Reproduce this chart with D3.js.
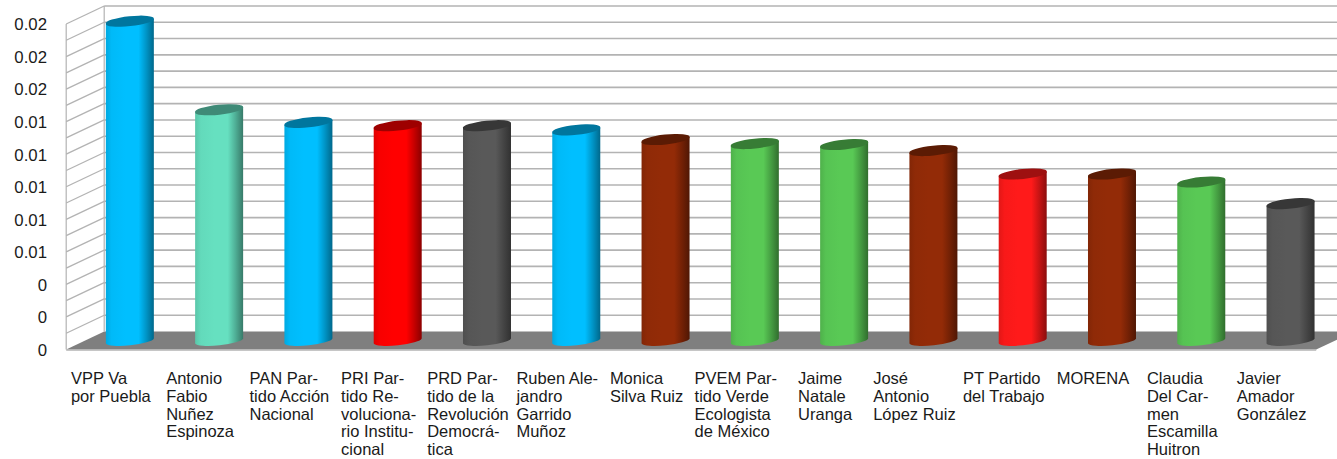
<!DOCTYPE html>
<html><head><meta charset="utf-8">
<script src="https://cdn.jsdelivr.net/npm/d3@7"></script>
<style>html,body{margin:0;padding:0;background:#fff}svg{display:block}text{font-family:"Liberation Sans",Arial,sans-serif;fill:#1a1a1a}</style>
</head><body><svg id="c" width="1337" height="459"></svg>
<script>
const categories=[
["VPP Va","por Puebla"],
["Antonio","Fabio","Nuñez","Espinoza"],
["PAN Par-","tido Acción","Nacional"],
["PRI Par-","tido Re-","voluciona-","rio Institu-","cional"],
["PRD Par-","tido de la","Revolución","Democrá-","tica"],
["Ruben Ale-","jandro","Garrido","Muñoz"],
["Monica","Silva Ruiz"],
["PVEM Par-","tido Verde","Ecologista","de México"],
["Jaime","Natale","Uranga"],
["José","Antonio","López Ruiz"],
["PT Partido","del Trabajo"],
["MORENA"],
["Claudia","Del Car-","men","Escamilla","Huitron"],
["Javier","Amador","González"]];
const values=[0.01962,0.01418,0.0134,0.0132,0.0132,0.01294,0.01235,0.0121,0.01204,0.01167,0.01023,0.01023,0.00974,0.00841];
const colors=["#00bfff","#66e0c0","#00bfff","#ff0000","#595959","#00bfff","#932b07","#59c955","#59c955","#932b07","#ff1a1a","#932b07","#59c955","#595959"];
const tickValues=d3.range(0,21).map(i=>i*0.001);
const labelValues=d3.range(0,11).map(i=>i*0.002);
const svg=d3.select("#c");
const dx=38,dy=18,x0=66.2,x1=1316.2,barW=48;
const y=d3.scaleLinear().domain([0,0.02]).range([349.5,24]);
const x=d3.scaleBand().domain(d3.range(values.length)).range([x0,x1]).paddingInner(0).paddingOuter(0);
const defs=svg.append("defs");
colors.forEach((c,i)=>{
 const g=defs.append("linearGradient").attr("id","g"+i);
 const base=d3.color(c);
 [[0,base.darker(.35)],[.12,base.darker(.08)],[.4,base],[.68,base],[.84,base.darker(.7)],[1,base.darker(1.7)]].forEach(s=>g.append("stop").attr("offset",s[0]).attr("stop-color",s[1]));
});
const grid="#b3b3b3";
// floor
svg.append("path").attr("d",`M${x0},${y(0)}L${x0+dx},${y(0)-dy}L${x1+dx},${y(0)-dy}L${x1},${y(0)}Z`).attr("fill","#7f7f7f");
// back grid lines & side grid lines
svg.append("g").selectAll("line").data(tickValues).join("line")
 .attr("x1",x0+dx).attr("x2",1337).attr("y1",d=>y(d)-dy).attr("y2",d=>y(d)-dy)
 .attr("stroke",grid).attr("stroke-width",d=>d===0?0:1.6);
svg.append("g").selectAll("line").data(tickValues).join("line")
 .attr("x1",x0).attr("x2",x0+dx).attr("y1",d=>y(d)).attr("y2",d=>y(d)-dy)
 .attr("stroke",grid).attr("stroke-width",d=>d===0?0:1.3);
svg.append("line").attr("x1",x0).attr("x2",x0).attr("y1",y(0.02)).attr("y2",y(0)).attr("stroke",grid).attr("stroke-width",1.2);
svg.append("line").attr("x1",x0+dx).attr("x2",x0+dx).attr("y1",y(0.02)-dy).attr("y2",y(0)-dy).attr("stroke",grid).attr("stroke-width",1.2);
svg.append("line").attr("x1",x0).attr("x2",x1).attr("y1",y(0)+.5).attr("y2",y(0)+.5).attr("stroke",grid).attr("stroke-width",1.4);
// bars
const rx=barW/2, tilt=2.5, ry=4.6;
const rot=Math.atan2(tilt,rx)*180/Math.PI;
const bars=svg.append("g");
values.forEach((v,i)=>{
 const cx=x(i)+x.bandwidth()/2+dx/2;
 const cyB=y(0)-dy/2+.5, cyT=y(v)-dy/2;
 const l=cx-rx,r=cx+rx;
 const g=bars.append("g");
 g.append("path").attr("fill",`url(#g${i})`)
  .attr("d",`M${l},${cyT+tilt}L${l},${cyB+tilt}A${rx+.2},${ry} ${-rot} 0 0 ${r},${cyB-tilt}L${r},${cyT-tilt}Z`);
 g.append("path").attr("fill",d3.color(colors[i]).darker(1.35))
  .attr("d",`M${l},${cyT+tilt}A${rx+.2},${ry} ${-rot} 1 1 ${r},${cyT-tilt}A${rx+.2},${ry} ${-rot} 1 1 ${l},${cyT+tilt}Z`);
});
// y labels
const fmt=d=>{const s=(Math.round(d*100)/100);return s===0?"0":s.toFixed(2)};
svg.append("g").selectAll("text").data(labelValues).join("text")
 .attr("x",47).attr("y",d=>y(d)+6.3).attr("text-anchor","end").attr("font-size",16.8).text(fmt);
// x labels
const lh=17.8;
categories.forEach((lines,i)=>{
 const g=svg.append("g");
 const ts=lines.map((t,k)=>g.append("text").attr("y",384+k*lh).attr("font-size",16.5).text(t));
 const w=d3.max(ts,t=>t.node().getComputedTextLength());
 const left=x(i)+x.bandwidth()/2-w/2;
 ts.forEach(t=>t.attr("x",left));
});
</script></body></html>
